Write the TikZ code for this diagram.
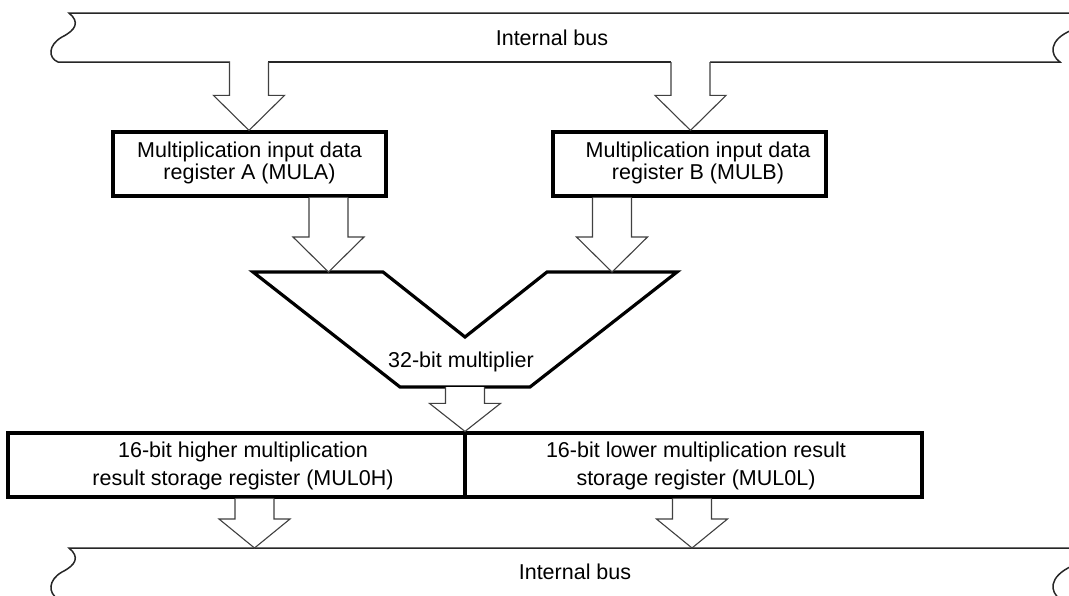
\documentclass[tikz,border=0pt]{standalone}
\usepackage{fontspec}
\setmainfont{Liberation Sans}
\usetikzlibrary{calc}
\tikzset{
  reg/.style={draw=black, line width=3.2pt, inner sep=0pt, minimum width=#1, minimum height=64pt},
  reg/.default=273pt,
  txt/.style={align=center, inner sep=0pt, font=\fontsize{21.5}{22}\selectfont},
  txtwide/.style={align=center, inner sep=0pt, font=\fontsize{21.5}{28}\selectfont},
  bus/.style={draw=black!85, line width=1.5pt},
  harr/.style={draw=black!75, line width=1.1pt, fill=white, line join=miter},
  mult/.style={draw=black, line width=3.2pt, line join=miter}
}
% #1 shaft top point, #2 tip point, #3 x of arrow, #4 head height
\newcommand\harrow[4]{%
  \draw[harr] let \p1=#1, \p2=#2, \p3=(#3,0) in
    (\x3-19.5pt,\y1) -- (\x3-19.5pt,\y2+#4pt) -- (\x3-35.5pt,\y2+#4pt) --
    (\x3,\y2) -- (\x3+35.5pt,\y2+#4pt) -- (\x3+19.5pt,\y2+#4pt) -- (\x3+19.5pt,\y1);}
\begin{document}
\begin{tikzpicture}[x=1pt,y=-1pt]
\useasboundingbox (0,0) rectangle (1069,595);
\clip (0,0) rectangle (1069,595);
\fill[white] (0,0) rectangle (1069,595);

% ---------- top internal bus ----------
\coordinate (tb1) at (69,13);
\coordinate (tb2) at (58,62);
\draw[bus] (1075,13) -- (tb1) .. controls (80,22) and (76,30) .. (62,37)
   .. controls (48,45) and (48,58) .. (tb2) -- (230,62);
\draw[bus] (268,62) -- (671,62);
\draw[bus] (710,62) -- (1060,62) .. controls (1050,55) and (1048,40) .. (1072,30);
\draw[black!12, line width=1pt] (230,62) -- (268,62) (671,62) -- (710,62);
\node[txt] (tbus) at (552,38) {Internal bus};
\coordinate (topbus) at (249,62);

% ---------- bottom internal bus ----------
\draw[bus] (1075,548) -- (69,548) .. controls (80,557) and (76,565) .. (62,572)
   .. controls (48,580) and (48,593) .. (58,599) -- (1060,599);
\draw[bus] (1060,599) .. controls (1050,592) and (1048,577) .. (1072,566);
\node[txt] (bbus) at (575,572) {Internal bus};
\coordinate (botbus) at (254,548);

% ---------- input registers ----------
\node[reg] (A) at (249.5,164) {};
\node[txt] (At) at (249.5,163) {Multiplication input data\\register A (MULA)};
\node[reg] (B) at (689.5,164) {};
\node[txt] (Bt) at (698,163) {Multiplication input data\\register B (MULB)};

% ---------- multiplier ----------
\coordinate (m1) at (253,272);
\coordinate (m2) at (383,272);
\coordinate (m3) at (465,337);
\coordinate (m4) at (547,272);
\coordinate (m5) at (677,272);
\coordinate (m6) at (530,387);
\coordinate (m7) at (400,387);
\draw[mult] (m1) -- (m2) -- (m3) -- (m4) -- (m5) -- (m6) -- (m7) -- cycle;
\node[txt] (M) at (461,362) {32-bit multiplier};

% ---------- result registers ----------
\node[reg=457pt] (RH) at (236.5,465) {};
\node[reg=457pt] (RL) at (693.5,465) {};
\node[txtwide] (RHt) at (243,466) {16-bit higher multiplication\\result storage register (MUL0H)};
\node[txtwide] (RLt) at (696,466) {16-bit lower multiplication result\\storage register (MUL0L)};

% ---------- hollow arrows ----------
\harrow{(topbus)}{(A.north)}{249}{35}
\harrow{(topbus)}{(B.north)}{690.5}{35}
\harrow{(A.south)}{(m1)}{328.5}{35}
\harrow{(B.south)}{(m1)}{612}{35}
\harrow{(m6)}{(RH.north)}{465}{28}
\harrow{(RH.south)}{(botbus)}{254.5}{29}
\harrow{(RL.south)}{(botbus)}{692}{29}
\end{tikzpicture}
\end{document}
